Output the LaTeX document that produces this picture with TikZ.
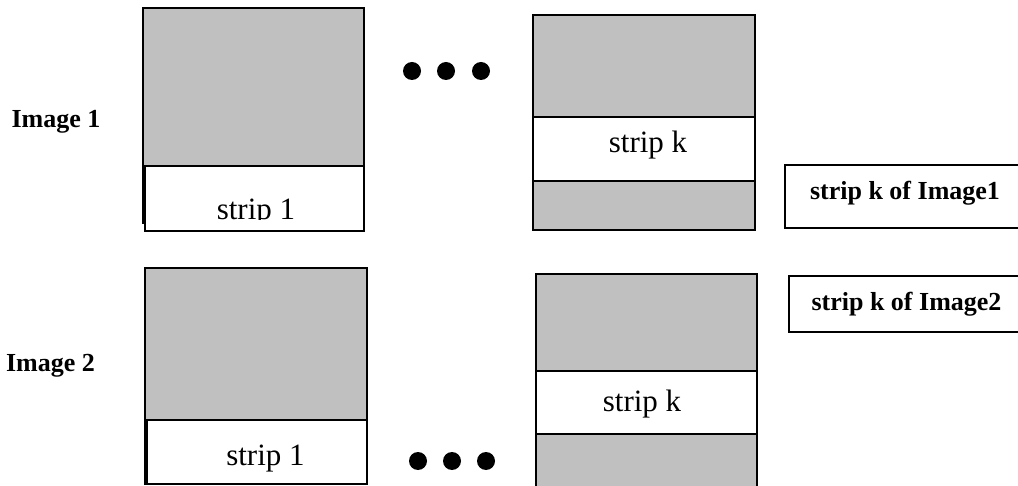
\documentclass[tikz,border=0pt]{standalone}
\usepackage{fontspec}
\setmainfont{Liberation Serif}
\definecolor{imggray}{RGB}{192,192,192}
\begin{document}
\begin{tikzpicture}[x=1pt,y=-1pt,
  frame/.style={draw=black, line width=1.8pt, inner sep=0pt, outer sep=0pt, anchor=north west},
  grayimg/.style={frame, fill=imggray},
  stripbox/.style={frame, fill=white},
  labelbox/.style={frame, fill=white},
  striptext/.style={font=\fontsize{31}{36}\selectfont, inner sep=0pt, anchor=base},
  boldtext/.style={font=\fontsize{26}{30}\selectfont\bfseries, inner sep=0pt, anchor=base},
  dotnode/.style={circle, fill=black, inner sep=0pt, minimum size=18pt}]
\useasboundingbox (0,0) rectangle (1018,486);
% Image 1, strip 1
\node[grayimg, minimum width=221pt, minimum height=215pt] (imgA) at (143,8) {};
\node[stripbox, minimum width=219pt, minimum height=65pt] (stripA) at (145,166) {};
\begin{scope}
\clip (145,166) rectangle (364,219.5);
\node[striptext] (stripAtext) at (256,220) {strip 1};
\end{scope}
% Image 1, strip k
\node[grayimg, minimum width=222pt, minimum height=215pt] (imgB) at (533,15) {};
\node[stripbox, minimum width=222pt, minimum height=64pt] (stripB) at (533,117) {};
\node[striptext] (stripBtext) at (648,153) {strip k};
% Image 2, strip 1
\node[grayimg, minimum width=222pt, minimum height=216pt] (imgC) at (145,268) {};
\node[stripbox, minimum width=220pt, minimum height=64pt] (stripC) at (147,420) {};
\node[striptext] (stripCtext) at (265.5,465) {strip 1};
% Image 2, strip k
\node[grayimg, minimum width=221pt, minimum height=230pt] (imgD) at (536,274) {};
\node[stripbox, minimum width=221pt, minimum height=63pt] (stripD) at (536,371) {};
\node[striptext] (stripDtext) at (642,412) {strip k};
% row labels
\node[boldtext] (lab1) at (56,128) {Image 1};
\node[boldtext] (lab2) at (50.5,372) {Image 2};
% result boxes
\node[labelbox, minimum width=240pt, minimum height=63pt] (resA) at (785,165) {};
\node[boldtext] (resAtext) at (905,200) {strip k of Image1};
\node[labelbox, minimum width=236pt, minimum height=56pt] (resB) at (789,276) {};
\node[boldtext] (resBtext) at (906.5,311) {strip k of Image2};
% ellipses
\node[dotnode] (dA1) at (412,71) {};
\node[dotnode] (dA2) at (446,71) {};
\node[dotnode] (dA3) at (481,71) {};
\node[dotnode] (dB1) at (418,461) {};
\node[dotnode] (dB2) at (452,461) {};
\node[dotnode] (dB3) at (486,461) {};
\end{tikzpicture}
\end{document}
